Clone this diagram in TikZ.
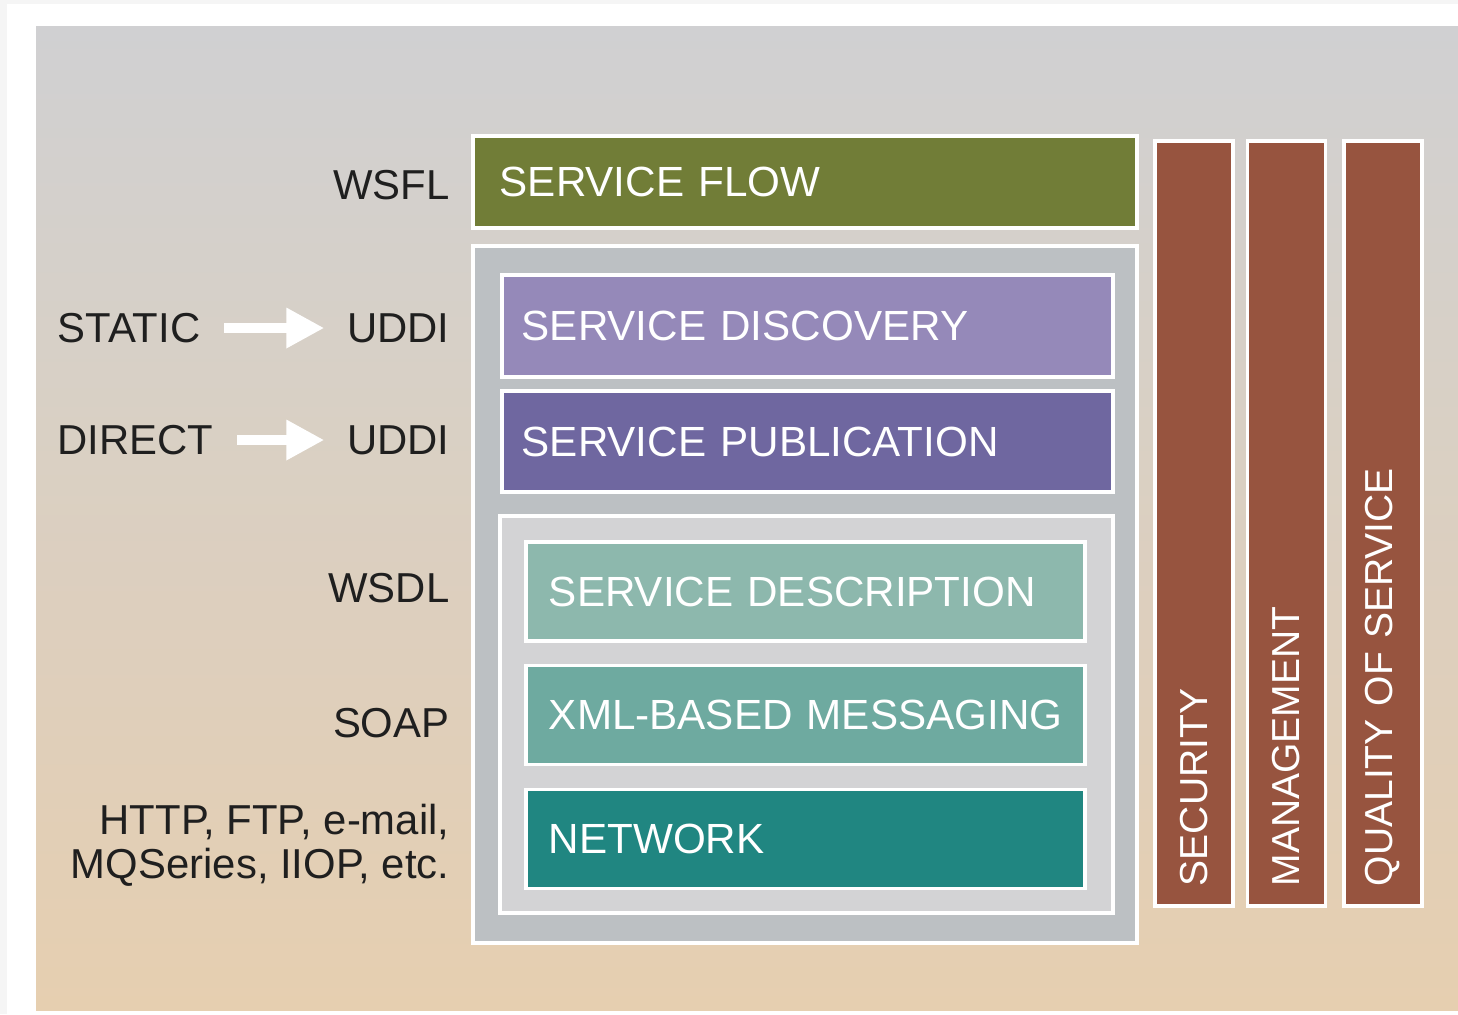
\documentclass[tikz,border=0pt]{standalone}
\usepackage{fontspec}
\setmainfont{Liberation Sans}
\usepackage{tikz}
\usetikzlibrary{arrows.meta, positioning}
\definecolor{BgTop}{RGB}{208,208,210}
\definecolor{BgBot}{RGB}{230,207,176}
\definecolor{FlowOlive}{RGB}{113,125,55}
\definecolor{DiscLilac}{RGB}{149,137,185}
\definecolor{PubPurple}{RGB}{111,103,160}
\definecolor{DescTeal}{RGB}{141,184,173}
\definecolor{XmlTeal}{RGB}{110,170,160}
\definecolor{NetTeal}{RGB}{32,134,129}
\definecolor{BarBrick}{RGB}{151,84,63}
\definecolor{StackGrey}{RGB}{188,192,195}
\definecolor{InnerGrey}{RGB}{211,211,213}

\begin{document}
\begin{tikzpicture}[x=0.01cm, y=-0.01cm,
    lbl/.style={inner sep=0pt, text=black!88,
                font=\fontsize{11.9}{12.6}\selectfont},
    lyr/.style={rectangle, draw=white, line width=1pt, text=white,
                align=left, inner ysep=0pt,
                font=\fontsize{12}{14}\selectfont},
    cont/.style={rectangle, draw=white, line width=1pt, inner sep=0pt},
    bar/.style={rectangle, draw=white, line width=1pt, fill=BarBrick,
                rotate=90, minimum height=0.78cm, text width=7.25cm,
                inner xsep=0.2cm, inner ysep=0pt, align=left, text=white,
                font=\fontsize{11.1}{13}\selectfont},
    warr/.style={draw=white, line width=2.85pt,
                 -{Triangle[length=10.8pt, width=10.8pt]},
                 shorten <=0.23cm, shorten >=0.22cm}
  ]
  % Page and background
  \fill[black!4] (0,0) rectangle (1458,1014);
  \fill[white] (7,4) rectangle (1458,1014);
  \shade[top color=BgTop, bottom color=BgBot] (36,26) rectangle (1458,1010);
  \useasboundingbox (0,0) rectangle (1458,1014);
  % Service flow
  \node[lyr, fill=FlowOlive, minimum height=0.92cm, text width=6.1cm,
        inner xsep=0.27cm] (flow) at (805,182) {SERVICE FLOW};
  % Stack containers
  \node[cont, fill=StackGrey, minimum width=6.64cm, minimum height=6.97cm]
        (stack) at (805,594.5) {};
  \node[cont, fill=InnerGrey, minimum width=6.13cm, minimum height=3.97cm]
        (core) at (806.5,714.5) {};
  % Discovery and publication
  \node[lyr, fill=DiscLilac, minimum height=1.02cm, text width=5.71cm,
        inner xsep=0.2cm] (disc) at (807.5,326) {SERVICE DISCOVERY};
  \node[lyr, fill=PubPurple, minimum height=1.01cm, text width=5.71cm,
        inner xsep=0.2cm] (pub) at (807.5,441.5) {SERVICE PUBLICATION};
  % Description, messaging, network
  \foreach \n/\y/\c/\t in {desc/591.5/DescTeal/SERVICE DESCRIPTION,
                           xml/715/XmlTeal/XML-BASED MESSAGING,
                           net/839/NetTeal/NETWORK} {
    \node[lyr, fill=\c, minimum height=0.99cm, text width=5.13cm,
          inner xsep=0.23cm] (\n) at (805.5,\y) {\mbox{\t}};
  }
  % Vertical bars
  \foreach \n/\x/\t in {sec/1194/SECURITY, mgt/1286.5/MANAGEMENT,
                        qos/1383/QUALITY OF SERVICE} {
    \node[bar] (\n) at (\x,523.5) {\t};
  }
  % Left labels
  \foreach \n/\y/\t in {wsfl/185/WSFL, wsdl/588/WSDL, soap/723/SOAP} {
    \node[lbl, anchor=east] (\n) at (450,\y) {\t};
  }
  \foreach \i/\y/\t in {1/328/STATIC, 2/440/DIRECT} {
    \node[lbl, anchor=west] (src\i) at (57,\y) {\t};
    \node[lbl, anchor=east] (uddi\i) at (450,\y) {UDDI};
    \draw[warr] (src\i.east) -- (uddi\i.west);
  }
  \node[lbl, anchor=east, align=right] (proto) at (450,845)
        {HTTP, FTP, e-mail,\\MQSeries, IIOP, etc.};
\end{tikzpicture}
\end{document}
